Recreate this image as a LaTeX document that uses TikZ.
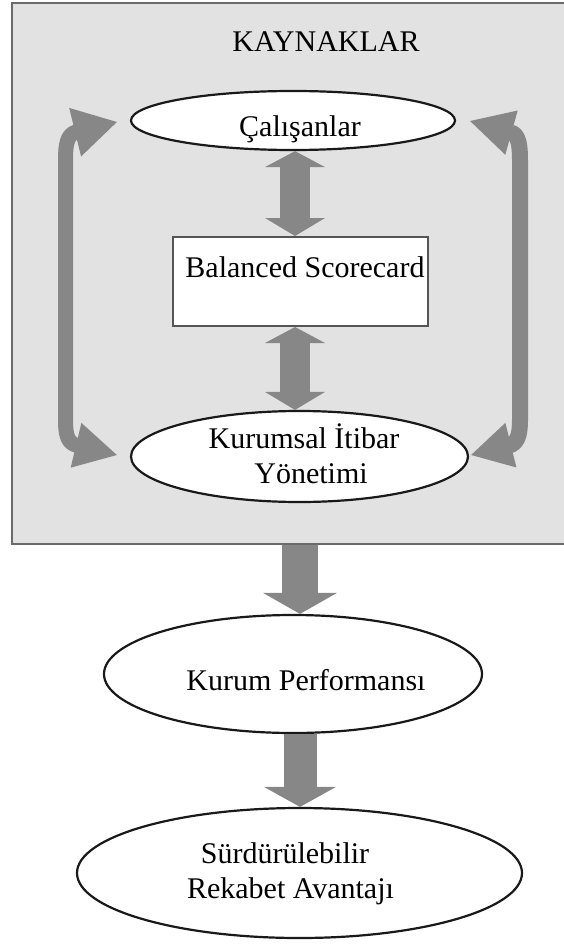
\documentclass[tikz,border=0pt]{standalone}
\usepackage{fontspec}
\setmainfont{Liberation Serif}
\usetikzlibrary{shapes.geometric,arrows.meta,calc}
\definecolor{panelfill}{HTML}{E2E2E2}
\definecolor{paneledge}{HTML}{6A6A6A}
\definecolor{flow}{HTML}{878787}
\definecolor{boxedge}{HTML}{555555}
\begin{document}
\begin{tikzpicture}[x=1pt,y=-1pt,
  txt/.style={anchor=base,inner sep=0pt,font=\fontsize{30}{35}\selectfont},
  oval/.style={ellipse,draw=black!90,line width=2.2pt,fill=white,inner sep=0pt},
  panel/.style={rectangle,draw=paneledge,line width=2pt,fill=panelfill,inner sep=0pt},
  card/.style={rectangle,draw=boxedge,line width=2pt,fill=white,inner sep=0pt},
  flowline/.style={draw=flow,line width=#1,line join=round}
]
\useasboundingbox (0,0) rectangle (564,944);

% resources panel
\node[panel,minimum width=555pt,minimum height=541pt] (res) at (289.5,273.5) {};
\node[txt] (tkay) at (326,52) {KAYNAKLAR};

% shapes
\node[oval,minimum width=324pt,minimum height=59pt] (cal) at (293,120.5) {};
\node[card,minimum width=255pt,minimum height=89pt] (bsc) at (300.5,281.5) {};
\node[oval,minimum width=337pt,minimum height=91pt] (kiy) at (299.5,456.5) {};
\node[oval,minimum width=378pt,minimum height=118pt] (kp) at (293,674) {};
\node[oval,minimum width=445pt,minimum height=130pt] (sra) at (299.5,873) {};

% labels
\node[txt] (tcal) at (300,137) {Çalışanlar};
\node[txt] (tbsc) at (305,277) {Balanced Scorecard};
\node[txt] (tkiy1) at (304,448) {Kurumsal İtibar};
\node[txt] (tkiy2) at (311,483) {Yönetimi};
\node[txt] (tkp) at (306,690) {Kurum Performansı};
\node[txt] (tsra1) at (285,863) {Sürdürülebilir};
\node[txt] (tsra2) at (290.5,898) {Rekabet Avantajı};

% vertical axes of the straight arrows
\coordinate (ax1) at (295,0);
\coordinate (ax2) at (300,0);

% double arrows inside the panel
\draw[flowline=30pt,
  {Triangle[length=16pt,width=60pt,line width=0pt]}-{Triangle[length=18pt,width=60pt,line width=0pt]}]
  (cal.south -| ax1) -- (bsc.north -| ax1);
\draw[flowline=30pt,
  {Triangle[length=16pt,width=60pt,line width=0pt]}-{Triangle[length=18pt,width=60pt,line width=0pt]}]
  (bsc.south -| ax1) -- (kiy.north -| ax1);

% bent arrows on both sides
\draw[flowline=15pt,
  {Triangle[length=43pt,width=50pt,line width=0pt]}-{Triangle[length=42pt,width=46pt,line width=0pt]}]
  ($(cal.west)+(-13,1.5)$) -- (76,132)
  .. controls (67,134.5) and (65.5,145) .. (65.5,160) -- (65.5,420)
  .. controls (65.5,436) and (68,443) .. (77,445.5)
  -- ($(kiy.west)+(-13,-1.5)$);
\draw[flowline=16pt,
  {Triangle[length=43pt,width=46pt,line width=0pt]}-{Triangle[length=41pt,width=46pt,line width=0pt]}]
  ($(cal.east)+(14,0.5)$) -- (511,132.5)
  .. controls (518.5,134.5) and (520,145) .. (520,160) -- (520,420)
  .. controls (520,436) and (517,443) .. (509.5,445.5)
  -- ($(kiy.east)+(2,-1.5)$);

% outcome arrows
\draw[flowline=36pt,-{Triangle[length=21pt,width=74pt,line width=0pt]}]
  (res.south -| ax2) -- (kp.north -| ax2);
\draw[flowline=33pt,-{Triangle[length=20pt,width=72pt,line width=0pt]}]
  (kp.south -| ax2) -- (sra.north -| ax2);
\end{tikzpicture}
\end{document}
